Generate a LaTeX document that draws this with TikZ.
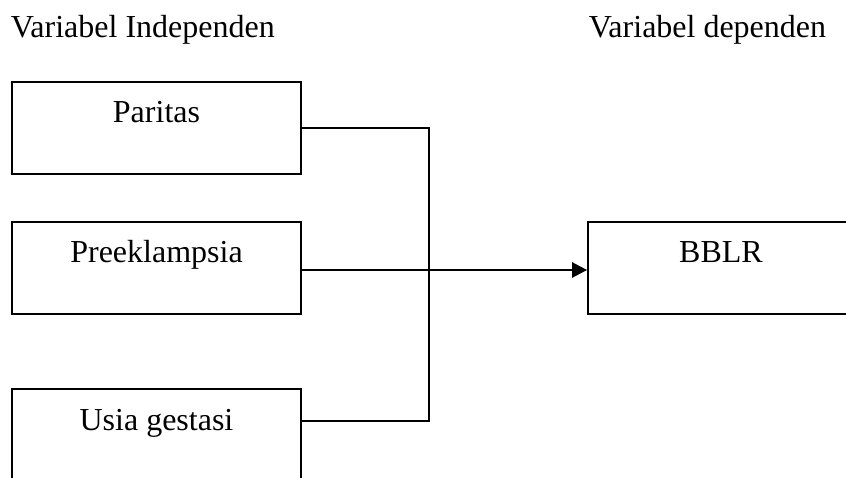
\documentclass[tikz,border=0pt]{standalone}
\usepackage{fontspec}
\setmainfont{Liberation Serif}
\usetikzlibrary{arrows.meta}

\begin{document}
\begin{tikzpicture}[x=1pt,y=1pt,>={Triangle[length=15pt,width=15pt]},
  font=\fontsize{32}{38}\selectfont,line width=1.8pt,
  varbox/.style={draw,rectangle,inner sep=0pt,minimum width=289pt,
    minimum height=92pt,text height=41pt,text depth=51pt},
  head/.style={anchor=base west,inner sep=0pt}]
% page frame, 846 x 478
\useasboundingbox (0,0) rectangle (846,-478);
\clip (0,0) rectangle (846,-478);
% column titles
\node[head] (indep) at (10,-38) {Variabel Independen};
\node[head] (dep)   at (588,-38) {Variabel dependen};
% independent variables
\node[varbox] (paritas) at (156.5,-128) {Paritas};
\node[varbox] (preek)   at (156.5,-268) {Preeklampsia};
\node[varbox] (usia)    at (156.5,-435) {Usia gestasi};
% dependent variable
\node[varbox,minimum width=266pt] (bblr) at (721,-268) {BBLR};
% connectors
\path (usia.north east) ++(0,-33) coordinate (usiaout);
\coordinate (bus) at (429,-270);
\draw (paritas.east) -| (bus);
\draw (usiaout) -| (bus);
\draw (preek.east |- bus) -- (bus);
\draw[->,line width=2.6pt] (bus) -- (bblr.west |- bus);
\end{tikzpicture}
\end{document}
